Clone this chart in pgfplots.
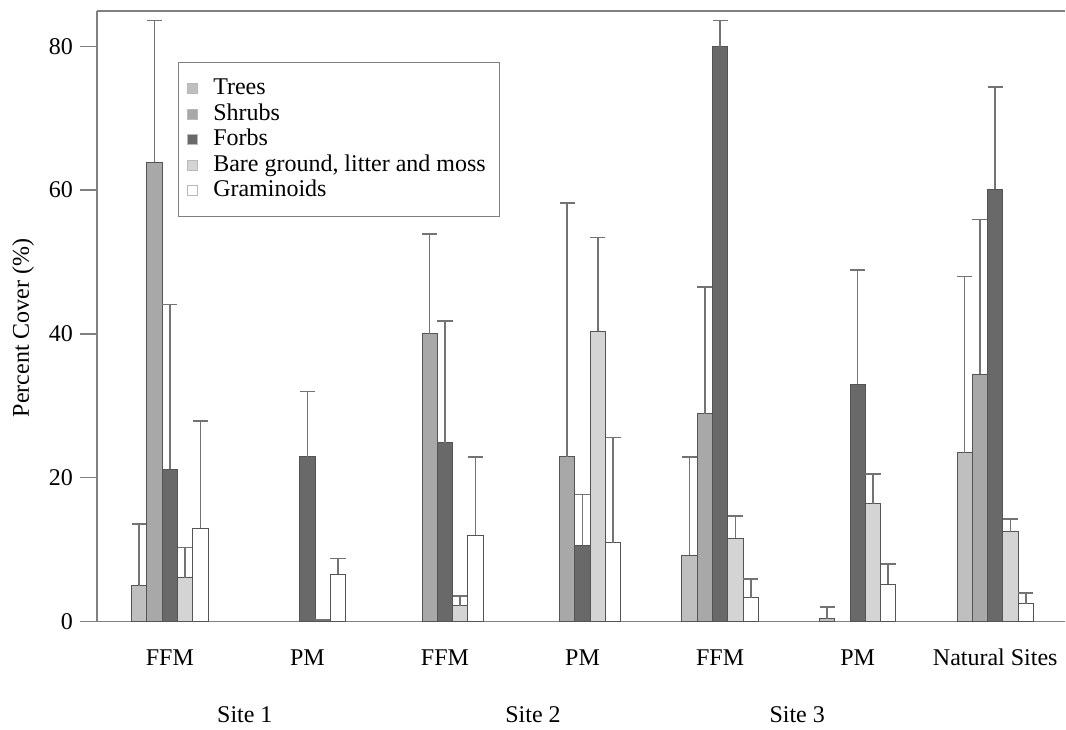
\documentclass[border=0pt]{standalone}
\usepackage{pgfplots}
\pgfplotsset{compat=1.18}
\usepackage{fontspec}
\setmainfont{Liberation Serif}

\definecolor{trees}{gray}{0.75}
\definecolor{shrubs}{gray}{0.66}
\definecolor{forbs}{gray}{0.41}
\definecolor{bare}{gray}{0.83}
\definecolor{edge}{gray}{0.33}
\definecolor{errc}{gray}{0.45}
\definecolor{axc}{gray}{0.5}

\begin{document}
\begin{tikzpicture}
\begin{axis}[
    scale only axis,
    width=484.5pt, height=305.5pt,
    ybar=0pt, bar width=7.65pt,
    xmin=-0.53, xmax=6.51,
    ymin=0, ymax=84.9,
    axis lines*=left,
    axis line style={axc, line width=0.6pt},
    xtick={0,1,2,3,4,5,6},
    xticklabels={FFM,PM,FFM,PM,FFM,PM,Natural Sites},
    xtick style={draw=none},
    xticklabel style={anchor=center, yshift=-9.5pt, font=\fontsize{12}{14}\selectfont},
    ytick={0,20,40,60,80},
    ytick style={axc, line width=0.6pt},
    tick align=outside,
    major tick length=8.5pt,
    yticklabel style={font=\fontsize{12}{14}\selectfont},
    /pgf/number format/assume math mode=true,
    clip=false,
    legend cell align=left,
    legend style={
        at={(0.0836,0.9165)}, anchor=north west,
        draw=axc, line width=0.6pt,
        inner xsep=4pt, inner ysep=6.5pt,
        row sep=0pt, column sep=5pt,
        font=\fontsize{12}{13}\selectfont,
        nodes={inner xsep=3pt, inner ysep=0.3pt, text height=9.2pt, text depth=3pt},
    },
    legend image code/.code={\filldraw[#1, draw=gray!55, line width=0.4pt] (0pt,-2.5pt) rectangle (5pt,2.5pt);},
    errs/.style={error bars/.cd, y dir=plus, y explicit,
        error bar style={errc, line width=0.8pt},
        error mark options={errc, rotate=90, mark size=3.8pt, line width=0.8pt}},
]

% Trees
\addplot[fill=trees, draw=edge, line width=0.5pt, errs] coordinates {
    (0,5.0) +- (0,8.6)
    (4,9.2) +- (0,13.7)
    (5,0.4) +- (0,1.6)
    (6,23.5) +- (0,24.5)
};
\addlegendentry{Trees}

% Shrubs
\addplot[fill=shrubs, draw=edge, line width=0.5pt, errs] coordinates {
    (0,63.9) +- (0,19.7)
    (2,40.0) +- (0,13.9)
    (3,22.9) +- (0,35.3)
    (4,28.9) +- (0,17.6)
    (6,34.4) +- (0,21.5)
};
\addlegendentry{Shrubs}

% Forbs
\addplot[fill=forbs, draw=edge, line width=0.5pt, errs] coordinates {
    (0,21.2) +- (0,22.9)
    (1,22.9) +- (0,9.1)
    (2,24.9) +- (0,16.9)
    (3,10.6) +- (0,7.1)
    (4,79.9) +- (0,3.7)
    (5,33.0) +- (0,15.9)
    (6,60.1) +- (0,14.2)
};
\addlegendentry{Forbs}

% Bare ground, litter and moss
\addplot[fill=bare, draw=edge, line width=0.5pt, errs] coordinates {
    (0,6.1) +- (0,4.2)
    (1,0.2) +- (0,0)
    (2,2.2) +- (0,1.4)
    (3,40.4) +- (0,13.0)
    (4,11.6) +- (0,3.1)
    (5,16.4) +- (0,4.1)
    (6,12.5) +- (0,1.8)
};
\addlegendentry{Bare ground, litter and moss}

% Graminoids
\addplot[fill=white, draw=edge, line width=0.5pt, errs] coordinates {
    (0,13.0) +- (0,14.9)
    (1,6.6) +- (0,2.2)
    (2,12.0) +- (0,10.9)
    (3,11.0) +- (0,14.6)
    (4,3.3) +- (0,2.6)
    (5,5.2) +- (0,2.8)
    (6,2.5) +- (0,1.5)
};
\addlegendentry{Graminoids}

\draw[axc, line width=0.6pt] (rel axis cs:0,1) -- (rel axis cs:1,1);

\node[rotate=90, font=\fontsize{12}{14}\selectfont] at ([xshift=-37pt]rel axis cs:0,0.481) {Percent Cover (\%)};

\node[font=\fontsize{12}{14}\selectfont] at ([yshift=-46.5pt]axis cs:0.545,0) {Site 1};
\node[font=\fontsize{12}{14}\selectfont] at ([yshift=-46.5pt]axis cs:2.64,0) {Site 2};
\node[font=\fontsize{12}{14}\selectfont] at ([yshift=-46.5pt]axis cs:4.56,0) {Site 3};

% page extent
\path ([xshift=-48.5pt, yshift=-52pt]rel axis cs:0,0) -- ([yshift=5.5pt]rel axis cs:1,1);
\end{axis}
\end{tikzpicture}
\end{document}
